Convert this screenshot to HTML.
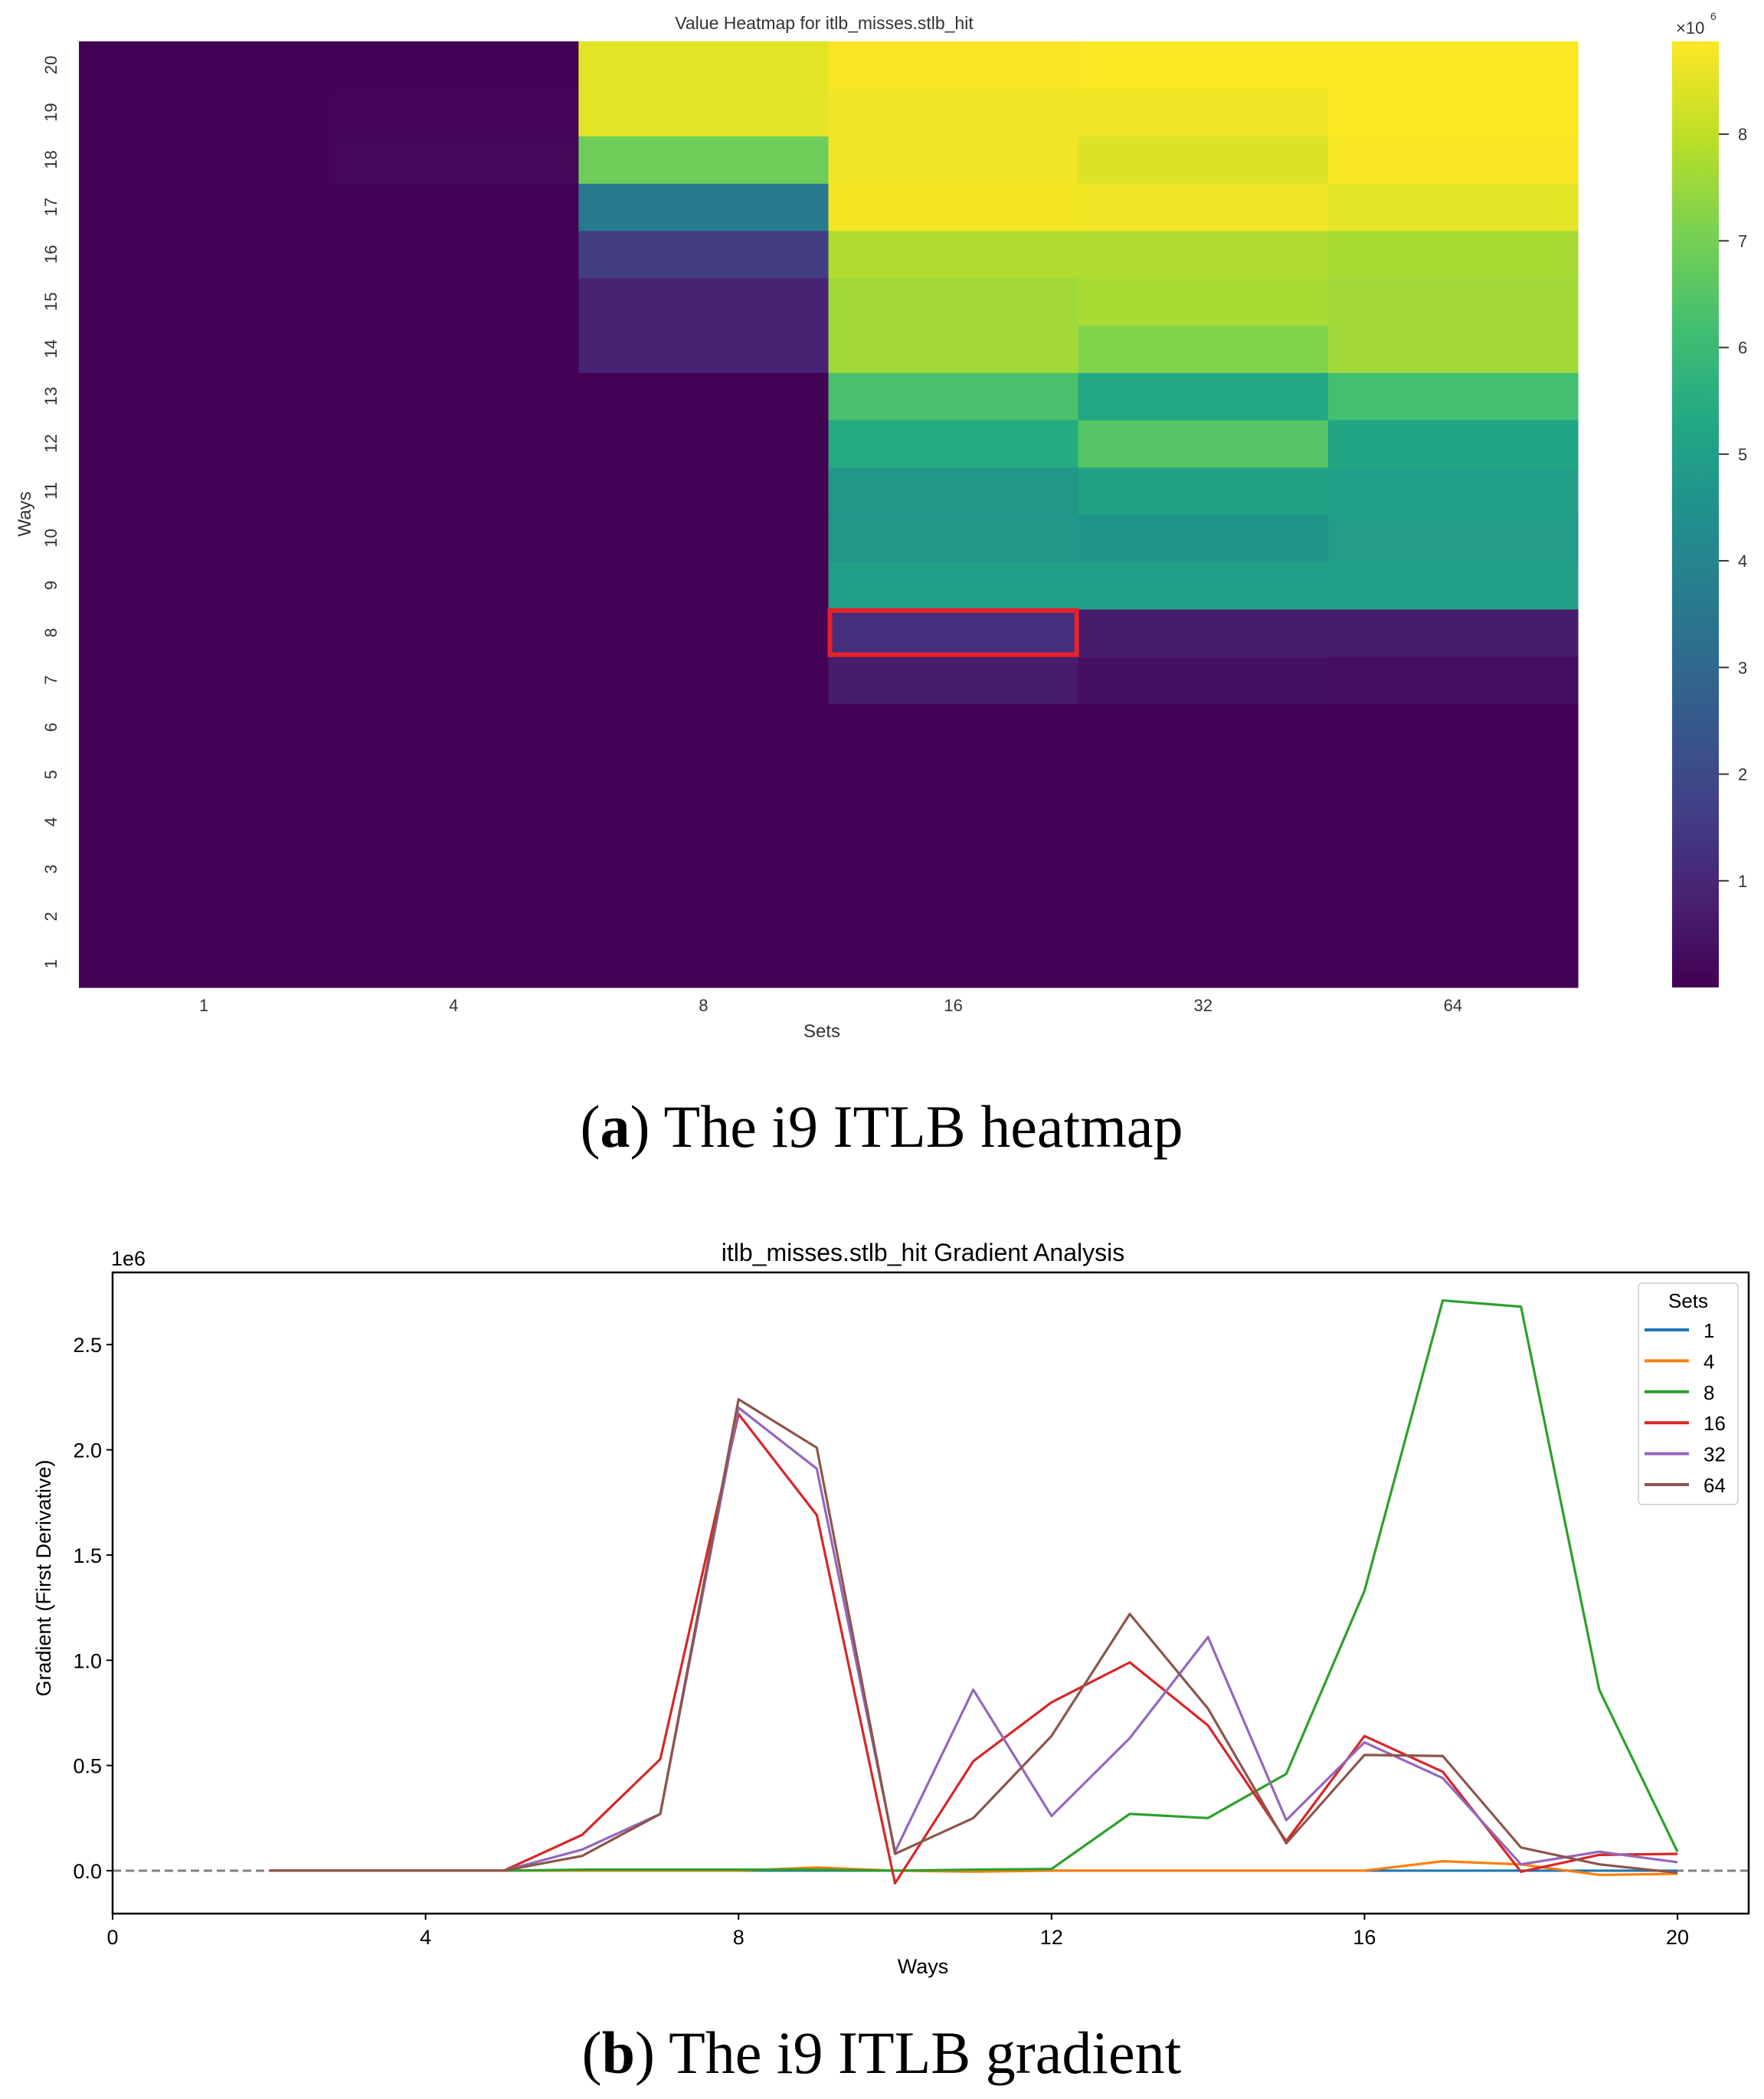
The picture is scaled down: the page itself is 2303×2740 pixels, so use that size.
<!DOCTYPE html>
<html><head><meta charset="utf-8"><style>
body{margin:0;background:#fff;}
svg{display:block;font-family:"Liberation Sans","DejaVu Sans",sans-serif;}
</style></head><body>
<svg id="s" width="2303" height="2740" viewBox="0 0 2303 2740">
<g id="hm"></g>
<g id="lc"></g>
<text x="1151" y="1497" text-anchor="middle" font-family="Liberation Serif, serif" font-size="78">(<tspan font-weight="bold">a</tspan>) The i9 ITLB heatmap</text>
<text x="1151" y="2706" text-anchor="middle" font-family="Liberation Serif, serif" font-size="78">(<tspan font-weight="bold">b</tspan>) The i9 ITLB gradient</text>
</svg>
<script>
// ---- heatmap data (x1e6), rows = ways 1..20 ----
const hmCols = ["1","4","8","16","32","64"];
const hmRows = [1,2,3,4,5,6,7,8,9,10,11,12,13,14,15,16,17,18,19,20];
const col1  = [0.02,0.02,0.02,0.02,0.02,0.02,0.02,0.02,0.02,0.02,0.02,0.02,0.02,0.02,0.02,0.02,0.02,0.02,0.02,0.02];
const col4  = [0.02,0.02,0.02,0.02,0.02,0.02,0.02,0.02,0.02,0.02,0.02,0.02,0.02,0.02,0.02,0.02,0.02,0.15,0.08,0.02];
const col8  = [0.02,0.02,0.02,0.02,0.02,0.02,0.02,0.02,0.02,0.02,0.02,0.02,0.02,0.9,0.9,1.6,3.6,6.9,8.5,8.5];
const col16 = [0.02,0.02,0.02,0.02,0.02,0.02,0.7,1.2,5.0,4.7,4.7,5.4,6.3,7.6,7.6,7.8,8.75,8.7,8.7,8.8];
const col32 = [0.02,0.02,0.02,0.02,0.02,0.02,0.4,0.7,5.0,4.6,5.1,6.5,5.3,7.2,7.7,7.8,8.7,8.4,8.7,8.85];
const col64 = [0.02,0.02,0.02,0.02,0.02,0.02,0.35,0.7,5.0,4.9,5.0,5.2,6.2,7.6,7.6,7.7,8.5,8.8,8.85,8.85];
const cbTicks = [1,2,3,4,5,6,7,8];
// ---- gradient data (x1e6) ----
const ways = [2,3,4,5,6,7,8,9,10,11,12,13,14,15,16,17,18,19,20];
const seriesNames = ["1","4","8","16","32","64"];
const g1  = [0,0,0,0,0,0,0,0,0,0,0,0,0,0,0,0,0,0,0];
const g4  = [0,0,0,0,0,0,0,0.015,0,-0.005,0,0,0,0,0,0.045,0.03,-0.02,-0.015];
const g8  = [0,0,0,0,0.005,0.005,0.005,0.005,0,0.005,0.008,0.27,0.25,0.46,1.33,2.71,2.68,0.86,0.09];
const g16 = [0,0,0,0,0.17,0.53,2.17,1.69,-0.06,0.52,0.80,0.99,0.69,0.14,0.64,0.47,-0.005,0.075,0.08];
const g32 = [0,0,0,0,0.1,0.27,2.2,1.91,0.09,0.86,0.26,0.63,1.11,0.24,0.61,0.44,0.03,0.09,0.04];
const g64 = [0,0,0,0,0.07,0.27,2.24,2.01,0.08,0.25,0.64,1.22,0.77,0.13,0.55,0.545,0.11,0.03,-0.01];
const xTicks = [0,4,8,12,16,20];
const yTicks = [0,0.5,1.0,1.5,2.0,2.5];

const NS="http://www.w3.org/2000/svg";
function mk(parent,tag,attrs,txt){const e=document.createElementNS(NS,tag);for(const k in attrs)e.setAttribute(k,attrs[k]);if(txt!==undefined)e.textContent=txt;parent.appendChild(e);return e;}
const VIR=[[68,1,84],[72,35,116],[64,67,135],[52,94,141],[41,120,142],[32,144,141],[34,168,132],[68,191,112],[122,209,81],[189,223,38],[253,231,37]];
function vir(t){t=Math.max(0,Math.min(1,t));const p=t*10,i=Math.min(9,Math.floor(p)),f=p-i;const a=VIR[i],b=VIR[i+1];return `rgb(${a.map((v,k)=>Math.round(v+(b[k]-v)*f)).join(",")})`;}

// heatmap
const hm=document.getElementById('hm');
const HL=103,HR=2060,HT=54,HB=1289,VMIN=0,VMAX=8.87;
const cols=[col1,col4,col8,col16,col32,col64];
const cw=(HR-HL)/hmCols.length, rh=(HB-HT)/hmRows.length;
const cx=i=>HL+i*cw, ry=r=>HT+(hmRows.length-r)*rh;
cols.forEach((c,i)=>c.forEach((v,j)=>{
  const r=mk(hm,'rect',{x:cx(i),y:ry(hmRows[j]),width:cw+0.6,height:rh+0.6,fill:vir((v-VMIN)/(VMAX-VMIN))});
  
  
}));
const box=mk(hm,'rect',{x:cx(3)+2,y:ry(8)+2,width:cw-4,height:rh-4,fill:'none',stroke:'#e8202a','stroke-width':6});


hmCols.forEach((l,i)=>{const t=mk(hm,'text',{x:cx(i)+cw/2,y:1320,'text-anchor':'middle','font-size':22,fill:'#333'},l);
  });
hmRows.forEach(r=>{const y=ry(r)+rh/2;const t=mk(hm,'text',{x:0,y:0,'text-anchor':'middle','font-size':22,fill:'#333',transform:`translate(74,${y}) rotate(-90)`},String(r));
  });
let t=mk(hm,'text',{x:1073,y:1354,'text-anchor':'middle','font-size':24,fill:'#333'},'Sets');
t=mk(hm,'text',{x:0,y:0,'text-anchor':'middle','font-size':24,fill:'#333',transform:'translate(40,671) rotate(-90)'},'Ways');
t=mk(hm,'text',{x:1076,y:38,'text-anchor':'middle','font-size':23,fill:'#333'},'Value Heatmap for itlb_misses.stlb_hit');
// colorbar
const CL=2183,CWd=61;
const defs=mk(hm,'defs',{});const lg=mk(defs,'linearGradient',{id:'cb',x1:0,y1:1,x2:0,y2:0});
for(let i=0;i<=20;i++)mk(lg,'stop',{offset:i/20,'stop-color':vir(i/20)});
const cb=mk(hm,'rect',{x:CL,y:HT,width:CWd,height:HB-HT,fill:'url(#cb)'});
const cby=v=>HB-(v-VMIN)/(VMAX-VMIN)*(HB-HT);
cbTicks.forEach(v=>{const y=cby(v);mk(hm,'line',{x1:CL+CWd,x2:CL+CWd+13,y1:y,y2:y,stroke:'#333','stroke-width':2});
  const l=mk(hm,'text',{x:CL+CWd+25,y:y+8,'font-size':22,fill:'#333'},String(v));});
t=mk(hm,'text',{x:2188,y:44,'font-size':22,fill:'#333'},'×10');
mk(hm,'text',{x:2233,y:26,'font-size':14,fill:'#333'},'6');

// line chart
const lc=document.getElementById('lc');
const L=147,R=2283,T=1661,B=2498,XMIN=0,XMAX=20.91,YMIN=-0.204,YMAX=2.843;
const X=v=>L+(v-XMIN)/(XMAX-XMIN)*(R-L), Y=v=>B-(v-YMIN)/(YMAX-YMIN)*(B-T);
const zl=mk(lc,'line',{x1:L,x2:R,y1:Y(0),y2:Y(0),stroke:'#808080','stroke-width':3,'stroke-dasharray':'11,6'});

const colors=['#1f77b4','#ff7f0e','#2ca02c','#d62728','#9467bd','#8c564b'];
[g1,g4,g8,g16,g32,g64].forEach((s,i)=>{
  const p=mk(lc,'polyline',{points:s.map((v,j)=>X(ways[j])+','+Y(v)).join(' '),fill:'none',stroke:colors[i],'stroke-width':3.2,'stroke-linejoin':'round'});
  
  
});
mk(lc,'rect',{x:L,y:T,width:R-L,height:B-T,fill:'none',stroke:'#000','stroke-width':2.5});
xTicks.forEach(v=>{const x=X(v);mk(lc,'line',{x1:x,x2:x,y1:B,y2:B+8,stroke:'#000','stroke-width':2});
  const l=mk(lc,'text',{x:x,y:B+40,'text-anchor':'middle','font-size':27},String(v));});
yTicks.forEach(v=>{const y=Y(v);mk(lc,'line',{x1:L-8,x2:L,y1:y,y2:y,stroke:'#000','stroke-width':2});
  const l=mk(lc,'text',{x:L-14,y:y+10,'text-anchor':'end','font-size':27},v.toFixed(1));});
t=mk(lc,'text',{x:145,y:1638+14,'font-size':27},'1e6');
t=mk(lc,'text',{x:1205,y:1630+16,'text-anchor':'middle','font-size':32},'itlb_misses.stlb_hit Gradient Analysis');
t=mk(lc,'text',{x:1205,y:2556+20,'text-anchor':'middle','font-size':27},'Ways');
t=mk(lc,'text',{x:0,y:0,'text-anchor':'middle','font-size':27,transform:'translate(66,2060) rotate(-90)'},'Gradient (First Derivative)');
// legend
const lgd=mk(lc,'g',{});
mk(lgd,'rect',{x:2139,y:1675,width:130,height:289,rx:5,fill:'#fff','fill-opacity':0.85,stroke:'#ccc','stroke-width':1.5});
mk(lgd,'text',{x:2204,y:1707,'text-anchor':'middle','font-size':26},'Sets');
seriesNames.forEach((n,i)=>{const y=1736+i*40.4;
  const e=mk(lgd,'g',{});
  mk(e,'line',{x1:2147,x2:2205,y1:y,y2:y,stroke:colors[i],'stroke-width':4});
  mk(e,'text',{x:2224,y:y+10,'font-size':26},n);});
</script>
</body></html>
